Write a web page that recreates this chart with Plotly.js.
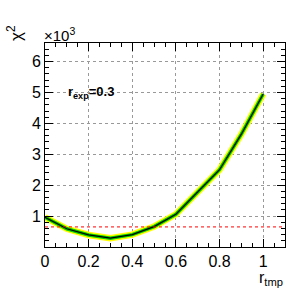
<!DOCTYPE html>
<html><head><meta charset="utf-8">
<script src="https://cdn.plot.ly/plotly-3.0.1.min.js"></script>
<style>html,body{margin:0;padding:0;background:#fff;}#plot{width:300px;height:291px;}</style>
</head><body><div id="plot"></div>
<script>
var rTmp = [0, 0.1, 0.2, 0.3, 0.4, 0.5, 0.6, 0.7, 0.8, 0.9, 1.0];
var chi2 = [960, 590, 390, 285, 400, 660, 1060, 1780, 2500, 3650, 4950];
var refLevel = 650;
var yTickVals = [1000, 2000, 3000, 4000, 5000, 6000];
var yTickText = ['1', '2', '3', '4', '5', '6'];
var xTickVals = [0, 0.2, 0.4, 0.6, 0.8, 1];
var xTickText = ['0', '0.2', '0.4', '0.6', '0.8', '1'];

var font = {family: 'Liberation Sans, Arial, sans-serif', size: 16, color: '#000'};
var traces = [
  {x: rTmp, y: chi2, mode: 'lines', line: {color: '#ffff00', width: 6.5}, hoverinfo: 'skip'},
  {x: rTmp, y: chi2, mode: 'lines', line: {color: '#00cc00', width: 3.5}, hoverinfo: 'skip'},
  {x: rTmp, y: chi2, mode: 'lines', line: {color: '#000', width: 1.2}, hoverinfo: 'skip'},
  {x: [0, 1.1], y: [refLevel, refLevel], mode: 'lines', line: {color: '#ff0000', width: 1, dash: 'dot'}, hoverinfo: 'skip'}
];
var layout = {
  width: 300, height: 291,
  margin: {l: 45, r: 15, t: 43, b: 44},
  showlegend: false,
  paper_bgcolor: '#fff', plot_bgcolor: '#fff',
  font: font,
  xaxis: {
    range: [0, 1.1], tickvals: xTickVals, ticktext: xTickText,
    ticks: 'inside', ticklen: 8, tickwidth: 1, tickcolor: '#000',
    showline: true, linecolor: '#000', linewidth: 1, mirror: 'ticks',
    showgrid: true, gridcolor: '#999', griddash: 'dot', gridwidth: 1,
    zeroline: false, tickfont: font,
    minor: {dtick: 0.05, ticks: 'inside', ticklen: 4, tickcolor: '#000', showgrid: false}
  },
  yaxis: {
    range: [0, 6600], tickvals: yTickVals, ticktext: yTickText,
    ticks: 'inside', ticklen: 8, tickwidth: 1, tickcolor: '#000',
    showline: true, linecolor: '#000', linewidth: 1, mirror: 'ticks',
    showgrid: true, gridcolor: '#999', griddash: 'dot', gridwidth: 1,
    zeroline: false, tickfont: font,
    minor: {dtick: 200, ticks: 'inside', ticklen: 4, tickcolor: '#000', showgrid: false}
  },
  annotations: [
    {text: '×10<sup>3</sup>', xref: 'paper', yref: 'paper', x: 0, y: 1, xanchor: 'left', yanchor: 'bottom', showarrow: false, font: {family: font.family, size: 15}, xshift: -3, yshift: -3},
    {text: 'χ<sup>2</sup>', xref: 'paper', yref: 'paper', x: 0, y: 1, xanchor: 'center', yanchor: 'top', showarrow: false, textangle: -90, font: {family: font.family, size: 17}, xshift: -30, yshift: 20},
    {text: '<b>r<sub>exp</sub>=0.3</b>', xref: 'x', yref: 'y', x: 0.1, y: 5000, xanchor: 'left', yanchor: 'middle', showarrow: false, font: {family: font.family, size: 13}, xshift: -1},
    {text: 'r<sub>tmp</sub>', xref: 'paper', yref: 'paper', x: 1, y: 0, xanchor: 'right', yanchor: 'top', showarrow: false, font: {family: font.family, size: 16}, yshift: -20}
  ]
};
Plotly.newPlot('plot', traces, layout, {staticPlot: true, displayModeBar: false});
</script></body></html>
